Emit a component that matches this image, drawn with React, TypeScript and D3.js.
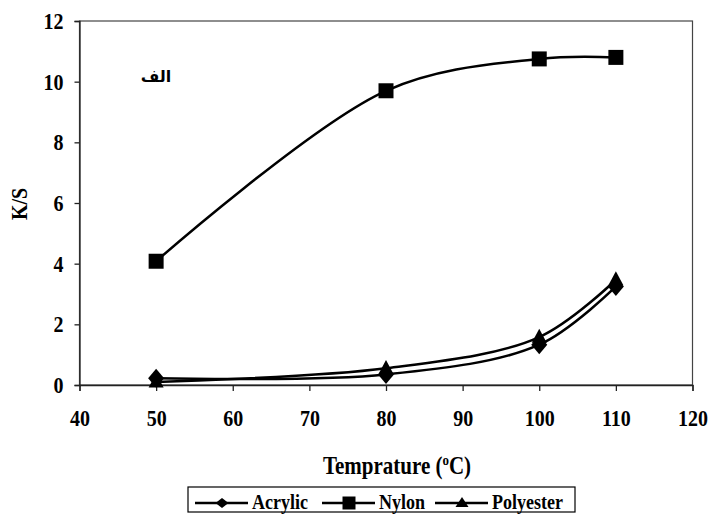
import React, { useEffect, useRef } from 'react';
import * as d3 from 'd3';

const temps = [50, 80, 100, 110];
const acrylic = [0.22, 0.35, 1.33, 3.25];
const nylon = [4.08, 9.7, 10.75, 10.8];
const polyester = [0.1, 0.55, 1.58, 3.47];

const xTicks = [40, 50, 60, 70, 80, 90, 100, 110, 120];
const yTicks = [0, 2, 4, 6, 8, 10, 12];

const seriesNames = ['Acrylic', 'Nylon', 'Polyester'];
const seriesShapes = ['diamond', 'square', 'triangle'];

const W = 710;
const H = 514;
const margin = { left: 79.5, right: 17.5, top: 21, bottom: 129 };
const FONT = 'Liberation Serif';
const STRETCH = 1.17; // glyphs in the picture are a bit taller than normal

function markerPath(shape: string, w: number, h: number) {
  const a = w / 2;
  const b = h / 2;
  if (shape === 'square') return `M${-a},${-b}H${a}V${b}H${-a}Z`;
  if (shape === 'diamond') return `M0,${-b}L${a},0L0,${b}L${-a},0Z`;
  return `M0,${-b * 1.2}L${a},${b * 0.8}L${-a},${b * 0.8}Z`;
}

const App: React.FC = () => {
  const svgRef = useRef<SVGSVGElement>(null);

  useEffect(() => {
    document.body.style.margin = '0';
    if (!svgRef.current) return;
    const svg = d3.select(svgRef.current);
    svg.selectAll('*').remove();

    const x = d3.scaleLinear().domain([40, 120]).range([margin.left, W - margin.right]);
    const y = d3.scaleLinear().domain([0, 12]).range([H - margin.bottom, margin.top]);

    // stretched bold serif text, baseline at (px, py)
    const label = (px: number, py: number, size: number, anchor: string, rot = 0) =>
      svg.append('text')
        .attr('transform', `translate(${px},${py}) rotate(${rot}) scale(1,${STRETCH})`)
        .attr('text-anchor', anchor)
        .attr('font-family', FONT)
        .attr('font-weight', 'bold')
        .attr('font-size', size)
        .attr('fill', '#000');

    // frame
    svg.append('rect')
      .attr('x', x(40)).attr('y', y(12))
      .attr('width', x(120) - x(40)).attr('height', y(0) - y(12))
      .attr('fill', 'none').attr('stroke', '#444').attr('stroke-width', 1.2);

    // axes
    const xAxis = svg.append('g')
      .attr('transform', `translate(0,${y(0)})`)
      .call(d3.axisBottom(x).tickValues(xTicks).tickSize(6));
    const yAxis = svg.append('g')
      .attr('transform', `translate(${x(40)},0)`)
      .call(d3.axisLeft(y).tickValues(yTicks).tickSize(5));
    [xAxis, yAxis].forEach(g => {
      g.select('.domain').attr('stroke', '#222').attr('stroke-width', 1.3);
      g.selectAll('.tick line').attr('stroke', '#222').attr('stroke-width', 1.3);
      g.selectAll('.tick text')
        .attr('fill', '#000')
        .attr('font-family', FONT)
        .attr('font-weight', 'bold')
        .attr('font-size', 20);
    });
    xAxis.selectAll('.tick text')
      .attr('y', 0).attr('dy', null)
      .attr('transform', `translate(0,41) scale(1,${STRETCH})`);
    yAxis.selectAll('.tick text')
      .attr('x', 0).attr('dy', null).attr('y', 0)
      .attr('transform', `translate(-16,7.5) scale(1,${STRETCH})`);

    const allSeries = [acrylic, nylon, polyester];
    const line = d3.line<number>()
      .x((_, i) => x(temps[i]))
      .y(d => y(d))
      .curve(d3.curveCatmullRom.alpha(0.5));

    const markerSize = [[16, 19], [15, 15], [15, 14]];
    allSeries.forEach((vals, si) => {
      svg.append('path')
        .datum(vals)
        .attr('fill', 'none')
        .attr('stroke', '#000')
        .attr('stroke-width', 2.5)
        .attr('d', line);
      svg.selectAll(`.m${si}`)
        .data(vals)
        .enter()
        .append('path')
        .attr('transform', (d, i) => `translate(${x(temps[i])},${y(d)})`)
        .attr('d', markerPath(seriesShapes[si], markerSize[si][0], markerSize[si][1]))
        .attr('fill', '#000');
    });

    // Arabic panel label
    svg.append('text')
      .attr('x', 156).attr('y', 82)
      .attr('text-anchor', 'middle')
      .attr('font-family', 'DejaVu Sans')
      .attr('font-weight', 'bold')
      .attr('font-size', 16)
      .text('الف');

    // axis titles
    const xt = label(397, 474, 21, 'middle');
    xt.append('tspan').text('Temprature (');
    xt.append('tspan').attr('dy', -8).attr('font-size', 13).text('o');
    xt.append('tspan').attr('dy', 8).text('C)');

    label(27, 204, 20, 'middle', -90).text('K/S');

    // legend
    svg.append('rect')
      .attr('x', 188).attr('y', 487).attr('width', 387).attr('height', 25)
      .attr('fill', '#fff').attr('stroke', '#000').attr('stroke-width', 1.2);
    const itemX = [195, 322, 435];
    const legSize = [[13, 10], [13, 13], [13, 10]];
    seriesNames.forEach((name, i) => {
      const g = svg.append('g').attr('transform', `translate(${itemX[i]},503)`);
      g.append('line').attr('x1', 0).attr('x2', 53).attr('y1', 0).attr('y2', 0)
        .attr('stroke', '#000').attr('stroke-width', 2.4);
      g.append('path').attr('transform', 'translate(27,0)')
        .attr('d', markerPath(seriesShapes[i], legSize[i][0], legSize[i][1])).attr('fill', '#000');
      label(itemX[i] + 57, 509, 18, 'start').text(name);
    });
  }, []);

  return <svg ref={svgRef} width={W} height={H} viewBox={`0 0 ${W} ${H}`} style={{ display: 'block', background: '#fff' }} />;
};

export default App;
